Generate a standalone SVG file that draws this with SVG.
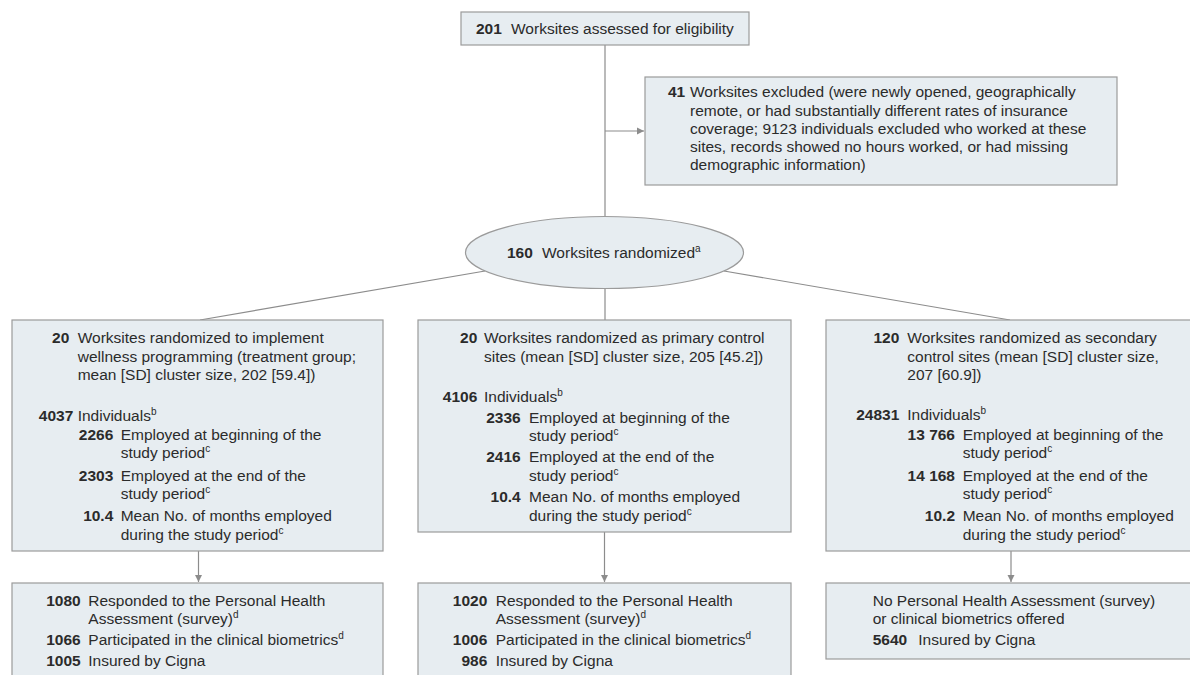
<svg xmlns="http://www.w3.org/2000/svg" width="1190" height="675" viewBox="0 0 1190 675">
<style>
  .box { fill: #e7edf1; stroke: #9b9b9b; stroke-width: 1.2; }
  .conn { stroke: #8c8c8c; stroke-width: 1.2; fill: none; }
  text { font-family: "Liberation Sans", Arial, sans-serif; font-size: 15.5px; fill: #2b2b2b; }
  .n { font-weight: bold; text-anchor: end; }
  .ns { font-weight: bold; }
  .sup { font-size: 10px; }
</style>
<defs>
  <marker id="arr" markerWidth="8" markerHeight="8" refX="7" refY="4" orient="auto" markerUnits="userSpaceOnUse">
    <path d="M0,0.5 L7,4 L0,7.5 Z" fill="#8c8c8c"/>
  </marker>
</defs>
<rect width="1190" height="675" fill="#ffffff"/>

<g id="connectors">
  <line class="conn" x1="605" y1="45" x2="605" y2="217"/>
  <line class="conn" x1="605" y1="131" x2="644" y2="131" marker-end="url(#arr)"/>
  <line class="conn" x1="605" y1="288" x2="605" y2="320"/>
  <line class="conn" x1="485" y1="271" x2="200" y2="320"/>
  <line class="conn" x1="724" y1="271" x2="1010" y2="320"/>
  <line class="conn" x1="198.5" y1="551" x2="198.5" y2="582" marker-end="url(#arr)"/>
  <line class="conn" x1="604.5" y1="532" x2="604.5" y2="582" marker-end="url(#arr)"/>
  <line class="conn" x1="1011" y1="551" x2="1011" y2="582" marker-end="url(#arr)"/>
</g>

<g id="assessed">
  <rect class="box" x="461" y="12" width="288" height="33"/>
  <text x="476" y="34"><tspan class="ns">201</tspan></text>
  <text x="511" y="34">Worksites assessed for eligibility</text>
</g>

<g id="excluded">
  <rect class="box" x="645" y="77" width="472" height="108"/>
  <text x="668" y="97.3" class="ns">41</text>
  <text x="690" y="97.3">Worksites excluded (were newly opened, geographically</text>
  <text x="690" y="115.5">remote, or had substantially different rates of insurance</text>
  <text x="690" y="133.7">coverage; 9123 individuals excluded who worked at these</text>
  <text x="690" y="151.9">sites, records showed no hours worked, or had missing</text>
  <text x="690" y="170.1">demographic information)</text>
</g>

<g id="randomized">
  <ellipse class="box" cx="604.5" cy="252.5" rx="139" ry="36"/>
  <text x="507" y="258" class="ns">160</text>
  <text x="542" y="258">Worksites randomized<tspan class="sup" dy="-6">a</tspan></text>
</g>

<g id="treatment">
  <rect class="box" x="12" y="320" width="371" height="231"/>
  <text x="69.3" y="343.3" class="n">20</text>
  <text x="77.7" y="343.3">Worksites randomized to implement</text>
  <text x="77.7" y="361.6">wellness programming (treatment group;</text>
  <text x="77.7" y="379.9">mean [SD] cluster size, 202 [59.4])</text>
  <text x="73.3" y="420.7" class="n">4037</text>
  <text x="77.7" y="420.7">Individuals<tspan class="sup" dy="-6">b</tspan></text>
  <text x="113.3" y="440" class="n">2266</text>
  <text x="120.7" y="440">Employed at beginning of the</text>
  <text x="120.7" y="458.3">study period<tspan class="sup" dy="-6">c</tspan></text>
  <text x="113.3" y="480.7" class="n">2303</text>
  <text x="120.7" y="480.7">Employed at the end of the</text>
  <text x="120.7" y="499.3">study period<tspan class="sup" dy="-6">c</tspan></text>
  <text x="113.3" y="521" class="n">10.4</text>
  <text x="120.7" y="521">Mean No. of months employed</text>
  <text x="120.7" y="540">during the study period<tspan class="sup" dy="-6">c</tspan></text>
</g>

<g id="primary-control">
  <rect class="box" x="418" y="320" width="373" height="212"/>
  <text x="477.3" y="343.3" class="n">20</text>
  <text x="484" y="343.3">Worksites randomized as primary control</text>
  <text x="484" y="361.6">sites (mean [SD] cluster size, 205 [45.2])</text>
  <text x="477.3" y="401.7" class="n">4106</text>
  <text x="484" y="401.7">Individuals<tspan class="sup" dy="-6">b</tspan></text>
  <text x="520.7" y="422.7" class="n">2336</text>
  <text x="529" y="422.7">Employed at beginning of the</text>
  <text x="529" y="441.3">study period<tspan class="sup" dy="-6">c</tspan></text>
  <text x="520.7" y="462.3" class="n">2416</text>
  <text x="529" y="462.3">Employed at the end of the</text>
  <text x="529" y="480.7">study period<tspan class="sup" dy="-6">c</tspan></text>
  <text x="520.7" y="501.7" class="n">10.4</text>
  <text x="529" y="501.7">Mean No. of months employed</text>
  <text x="529" y="521">during the study period<tspan class="sup" dy="-6">c</tspan></text>
</g>

<g id="secondary-control">
  <rect class="box" x="826" y="320" width="370" height="231"/>
  <text x="899.3" y="343.3" class="n">120</text>
  <text x="907.3" y="343.3">Worksites randomized as secondary</text>
  <text x="907.3" y="361.6">control sites (mean [SD] cluster size,</text>
  <text x="907.3" y="379.9">207 [60.9])</text>
  <text x="899.3" y="420" class="n">24831</text>
  <text x="907.3" y="420">Individuals<tspan class="sup" dy="-6">b</tspan></text>
  <text x="955" y="440" class="n">13 766</text>
  <text x="962.7" y="440">Employed at beginning of the</text>
  <text x="962.7" y="458.3">study period<tspan class="sup" dy="-6">c</tspan></text>
  <text x="955" y="480.7" class="n">14 168</text>
  <text x="962.7" y="480.7">Employed at the end of the</text>
  <text x="962.7" y="499.3">study period<tspan class="sup" dy="-6">c</tspan></text>
  <text x="955" y="521" class="n">10.2</text>
  <text x="962.7" y="521">Mean No. of months employed</text>
  <text x="962.7" y="540">during the study period<tspan class="sup" dy="-6">c</tspan></text>
</g>

<g id="treatment-outcomes">
  <rect class="box" x="12" y="583" width="371" height="100"/>
  <text x="80.7" y="605.7" class="n">1080</text>
  <text x="88.3" y="605.7">Responded to the Personal Health</text>
  <text x="88.3" y="624">Assessment (survey)<tspan class="sup" dy="-6">d</tspan></text>
  <text x="80.7" y="645" class="n">1066</text>
  <text x="88.3" y="645">Participated in the clinical biometrics<tspan class="sup" dy="-6">d</tspan></text>
  <text x="80.7" y="665.7" class="n">1005</text>
  <text x="88.3" y="665.7">Insured by Cigna</text>
</g>

<g id="primary-outcomes">
  <rect class="box" x="418" y="583" width="373" height="100"/>
  <text x="487.3" y="605.7" class="n">1020</text>
  <text x="495.7" y="605.7">Responded to the Personal Health</text>
  <text x="495.7" y="624">Assessment (survey)<tspan class="sup" dy="-6">d</tspan></text>
  <text x="487.3" y="645" class="n">1006</text>
  <text x="495.7" y="645">Participated in the clinical biometrics<tspan class="sup" dy="-6">d</tspan></text>
  <text x="487.3" y="665.7" class="n">986</text>
  <text x="495.7" y="665.7">Insured by Cigna</text>
</g>

<g id="secondary-outcomes">
  <rect class="box" x="826" y="583" width="370" height="76"/>
  <text x="872.7" y="605.7">No Personal Health Assessment (survey)</text>
  <text x="872.7" y="624">or clinical biometrics offered</text>
  <text x="872.7" y="645" class="ns">5640</text>
  <text x="918.3" y="645">Insured by Cigna</text>
</g>
</svg>
